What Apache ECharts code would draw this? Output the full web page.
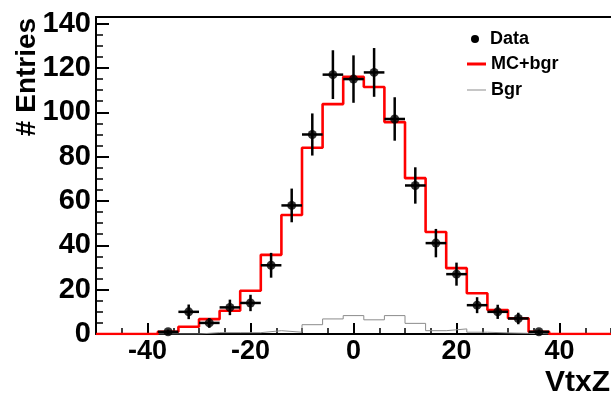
<!DOCTYPE html>
<html>
<head>
<meta charset="utf-8">
<script src="https://cdn.jsdelivr.net/npm/echarts@6/dist/echarts.min.js"></script>
<style>
html,body{margin:0;padding:0;background:#fff;}
#chart{width:611px;height:398px;}
</style>
</head>
<body>
<div id="chart"></div>
<script>
// ---- data ----
const binCenters = [-36,-32,-28,-24,-20,-16,-12,-8,-4,0,4,8,12,16,20,24,28,32,36];
const dataValues = [1,10,5,12,14,31,58,90,117,115,118,97,67,41,27,13,10,7,1];
const dataErrors = [1,3.3,2.2,3.5,3.7,5.6,7.6,9.5,11,10.7,11,9.8,8.2,6.4,5.2,3.6,3.2,2.6,1];
const mcValues   = [1,3.3,6.7,10.5,19.5,35.7,53.7,84,103.7,116,111.4,95.6,70.3,46,29.7,18.4,10.8,7.1,1];
const bgrValues  = [0,0,0.6,0.6,0.6,1.5,0.8,4.2,6.8,8.3,6.4,8.3,4.8,1.5,2.3,0.8,0.5,0.3,0];
const xTickLabels = [-40,-20,0,20,40];
const BIN_WIDTH = 4;
const X_MIN = -50, X_MAX = 50;

function stepData(centers, values) {
  const out = [[X_MIN, 0]];
  centers.forEach((c, i) => out.push([c - BIN_WIDTH / 2, values[i]]));
  out.push([centers[centers.length - 1] + BIN_WIDTH / 2, 0]);
  out.push([X_MAX, 0]);
  return out;
}

const FONT = 'Liberation Sans';
const chart = echarts.init(document.getElementById('chart'), null, {renderer: 'canvas'});

const gridPos = {left: 96, top: 17, right: -5, bottom: 64, containLabel: false};
const legendText = {fontFamily: FONT, fontWeight: 'bold', fontSize: 18, color: '#000', lineHeight: 18};

const option = {
  backgroundColor: '#ffffff',
  animation: false,
  grid: [Object.assign({}, gridPos), Object.assign({}, gridPos)],
  xAxis: [
    {
      type: 'value', gridIndex: 0, min: X_MIN, max: X_MAX, position: 'bottom',
      splitLine: {show: false},
      axisLine: {show: true, onZero: false, lineStyle: {color: '#000', width: 2}},
      axisTick: {show: true, inside: true, length: 11, customValues: xTickLabels, lineStyle: {color: '#000', width: 2}},
      axisLabel: {show: true, customValues: xTickLabels, margin: 4, color: '#000',
        fontFamily: FONT, fontWeight: 'bold', fontSize: 27}
    },
    {
      type: 'value', gridIndex: 0, min: X_MIN, max: X_MAX, position: 'top',
      splitLine: {show: false},
      axisLine: {show: true, onZero: false, lineStyle: {color: '#000', width: 2}},
      axisTick: {show: false}, axisLabel: {show: false}
    },
    {
      type: 'value', gridIndex: 1, min: X_MIN, max: X_MAX, interval: 5, position: 'bottom',
      splitLine: {show: false},
      axisLine: {show: false},
      axisTick: {show: true, inside: true, length: 6, lineStyle: {color: '#000', width: 1.5}},
      axisLabel: {show: false}
    }
  ],
  yAxis: [
    {
      type: 'value', gridIndex: 0, min: 0, max: 143, interval: 20,
      splitLine: {show: false},
      axisLine: {show: true, onZero: false, lineStyle: {color: '#000', width: 2}},
      axisTick: {show: true, inside: true, length: 13, lineStyle: {color: '#000', width: 2}},
      minorTick: {show: true, splitNumber: 4, length: 7, lineStyle: {color: '#000', width: 1.5}},
      axisLabel: {show: true, margin: 5, color: '#000', fontFamily: FONT, fontWeight: 'bold', fontSize: 29,
        padding: [0, 0, 6, 0],
        formatter: v => (v % 20 === 0 ? String(v) : '')}
    },
    {
      type: 'value', gridIndex: 1, min: 0, max: 143, show: false
    }
  ],
  legend: [
    {data: [{name: 'Data', icon: 'circle'}], left: 471, top: 30, orient: 'vertical', padding: 0,
      itemWidth: 8, itemHeight: 8, textStyle: Object.assign({padding: [0, 0, 0, 6]}, legendText), selectedMode: false},
    {data: [{name: 'MC+bgr', icon: 'rect', itemStyle: {color: '#ff0000'}}], left: 467, top: 55, orient: 'vertical', padding: 0,
      itemWidth: 19, itemHeight: 3, textStyle: legendText, selectedMode: false},
    {data: [{name: 'Bgr', icon: 'rect', itemStyle: {color: '#8c8c8c'}}], left: 467, top: 81, orient: 'vertical', padding: 0,
      itemWidth: 19, itemHeight: 1, textStyle: legendText, selectedMode: false}
  ],
  graphic: [
    {type: 'text', x: 27, y: 77, rotation: Math.PI / 2,
      style: {text: '# Entries', font: 'bold 28px "Liberation Sans"', fill: '#000', align: 'center', verticalAlign: 'middle'}},
    {type: 'text', right: 1, top: 368,
      style: {text: 'VtxZ', font: 'bold 30px "Liberation Sans"', fill: '#000'}}
  ],
  series: [
    {
      name: 'Bgr', type: 'line', xAxisIndex: 0, yAxisIndex: 0, step: 'end',
      data: stepData(binCenters, bgrValues), symbol: 'none', z: 2,
      lineStyle: {color: '#8c8c8c', width: 1}, itemStyle: {color: '#8c8c8c'}
    },
    {
      name: 'MC+bgr', type: 'line', xAxisIndex: 0, yAxisIndex: 0, step: 'end',
      data: stepData(binCenters, mcValues), symbol: 'none', z: 3,
      lineStyle: {color: '#ff0000', width: 2.6}, itemStyle: {color: '#ff0000'}
    },
    {
      name: 'Data', type: 'custom', xAxisIndex: 0, yAxisIndex: 0, z: 4,
      data: binCenters.map((c, i) => [c, dataValues[i], dataErrors[i]]),
      renderItem: function (params, api) {
        const x = api.value(0), y = api.value(1), e = api.value(2);
        const t = api.coord([x, y + e]);
        const b = api.coord([x, Math.max(0, y - e)]);
        const l = api.coord([x - BIN_WIDTH / 2, y]);
        const r = api.coord([x + BIN_WIDTH / 2, y]);
        return {
          type: 'group',
          children: [
            {type: 'line', shape: {x1: t[0], y1: t[1], x2: b[0], y2: b[1]}, style: {stroke: '#000', lineWidth: 2.5}},
            {type: 'line', shape: {x1: l[0], y1: l[1], x2: r[0], y2: r[1]}, style: {stroke: '#000', lineWidth: 2.5}}
          ]
        };
      },
      itemStyle: {color: '#000'}
    },
    {
      name: 'Data', type: 'scatter', xAxisIndex: 0, yAxisIndex: 0, z: 5,
      data: binCenters.map((c, i) => [c, dataValues[i]]),
      symbol: 'circle', symbolSize: 9, itemStyle: {color: '#000'}
    }
  ]
};
chart.setOption(option);
</script>
</body>
</html>
